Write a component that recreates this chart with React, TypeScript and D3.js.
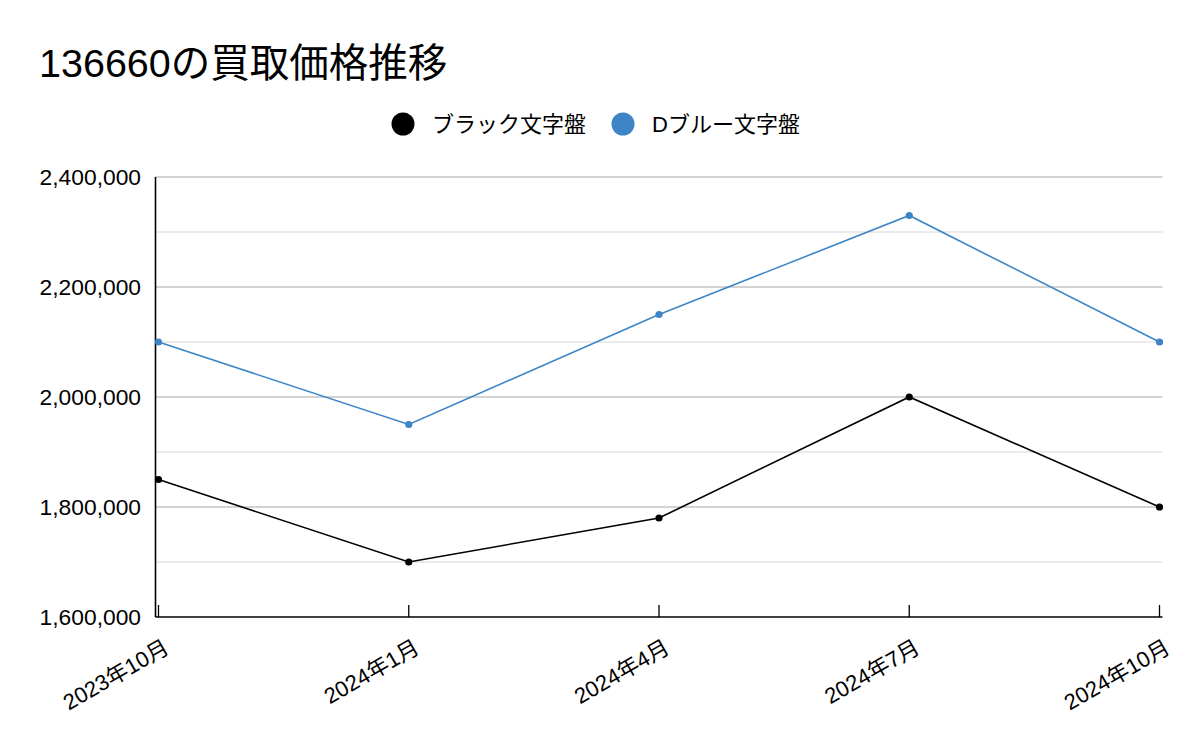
import React from 'react';
import * as d3 from 'd3';

const title = '136660の買取価格推移';
const categories = ['2023年10月', '2024年1月', '2024年4月', '2024年7月', '2024年10月'];
const blackValues = [1850000, 1700000, 1780000, 2000000, 1800000];
const blueValues = [2100000, 1950000, 2150000, 2330000, 2100000];
const seriesNames = ['ブラック文字盤', 'Dブルー文字盤'];
const seriesColors = ['#000000', '#3d85c6'];
const majorTicks = [1600000, 1800000, 2000000, 2200000, 2400000];
const minorTicks = [1700000, 1900000, 2100000, 2300000];

const FONT = "'Liberation Sans', Arial, 'Noto Sans CJK JP', sans-serif";

const App = () => {
  const width = 1200;
  const height = 742;
  const plot = { left: 155.5, right: 1162.5, top: 177, bottom: 617 };

  const x = d3.scalePoint<string>()
    .domain(categories)
    .range([158.5, 1159.5]);

  const y = d3.scaleLinear()
    .domain([1600000, 2400000])
    .range([plot.bottom, plot.top]);

  const fmt = d3.format(',');

  const line = d3.line<number>()
    .x((_, i) => x(categories[i]) as number)
    .y(d => y(d));

  const series = [blackValues, blueValues];

  return (
    <div style={{ position: 'absolute', left: 0, top: 0 }}>
      <svg width={width} height={height} style={{ display: 'block', background: '#fff' }} fontFamily={FONT}>
        <rect width={width} height={height} fill="#fff" />
        <text x={39} y={77} fontSize={39.5} fill="#000">{title}</text>

        {/* legend */}
        {seriesNames.map((name, i) => {
          const cx = i === 0 ? 403 : 623;
          return (
            <g key={name}>
              <circle cx={cx} cy={124} r={11.5} fill={seriesColors[i]} />
              <text x={cx + 29} y={132} fontSize={22} fill="#000">{name}</text>
            </g>
          );
        })}

        {/* gridlines */}
        {minorTicks.map(t => (
          <line key={'m' + t} x1={plot.left} x2={plot.right} y1={y(t)} y2={y(t)} stroke="#e5e5e5" strokeWidth={1.3} />
        ))}
        {majorTicks.filter(t => t > 1600000).map(t => (
          <line key={'M' + t} x1={plot.left} x2={plot.right} y1={y(t)} y2={y(t)} stroke="#c4c4c4" strokeWidth={1.3} />
        ))}

        {/* y labels */}
        {majorTicks.map(t => (
          <text key={'l' + t} x={141} y={y(t) + 8} fontSize={22.8} textAnchor="end" fill="#000">{fmt(t)}</text>
        ))}

        {/* axes */}
        <line x1={plot.left} x2={plot.left} y1={plot.top} y2={plot.bottom} stroke="#000" strokeWidth={1.6} />
        <line x1={plot.left} x2={plot.right} y1={plot.bottom} y2={plot.bottom} stroke="#000" strokeWidth={1.6} />
        {categories.map(c => (
          <line key={'t' + c} x1={x(c)} x2={x(c)} y1={plot.bottom - 12} y2={plot.bottom} stroke="#000" strokeWidth={1.3} />
        ))}
        {categories.map(c => (
          <text
            key={'x' + c}
            transform={`translate(${(x(c) as number) + 12},${plot.bottom + 35}) rotate(-30)`}
            fontSize={22}
            textAnchor="end"
            fill="#000"
          >{c}</text>
        ))}

        {/* lines */}
        {series.map((vals, i) => (
          <g key={'s' + i}>
            <path d={line(vals) || ''} fill="none" stroke={seriesColors[i]} strokeWidth={1.6} />
            {vals.map((v, j) => (
              <circle key={j} cx={x(categories[j])} cy={y(v)} r={3.6} fill={seriesColors[i]} />
            ))}
          </g>
        ))}
      </svg>
    </div>
  );
};

export default App;
